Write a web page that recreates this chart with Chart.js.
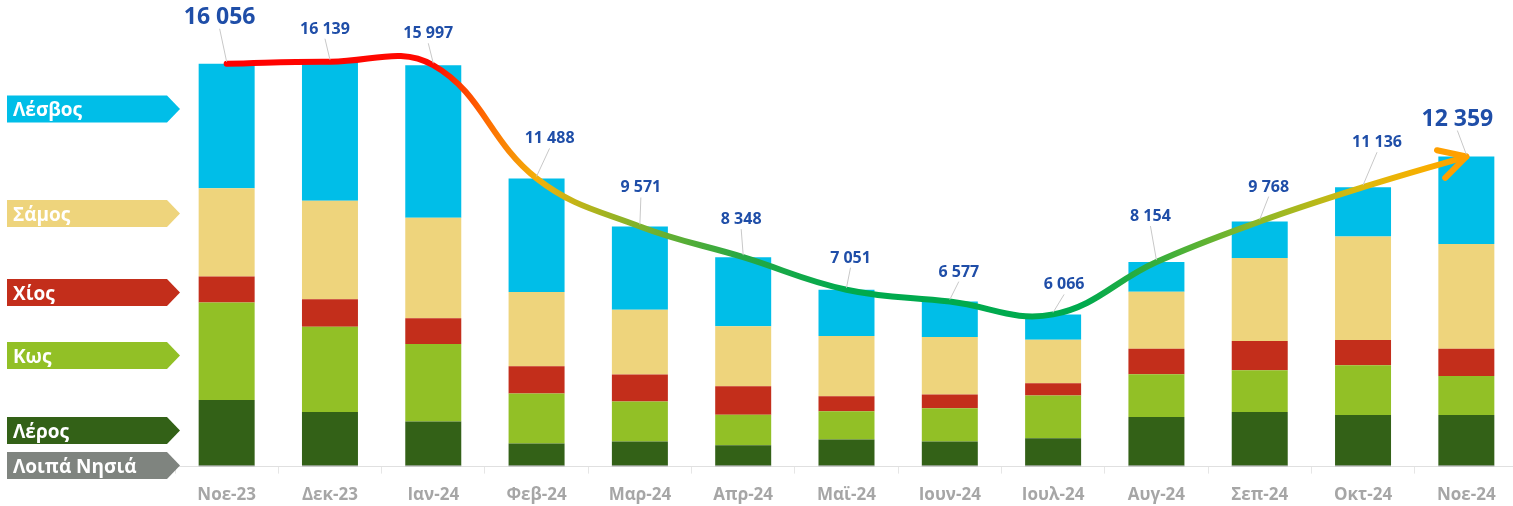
<!DOCTYPE html>
<html>
<head>
  <meta charset="utf-8">
  <title>Αφίξεις ανά νησί</title>
  <script src="https://cdn.jsdelivr.net/npm/chart.js"></script>
  <style>
    html, body { margin: 0; padding: 0; background: #fff; overflow: hidden; }
    .wrap { width: 1518px; height: 506px; position: relative; }
  </style>
</head>
<body>
<div class="wrap"><canvas id="chart"></canvas></div>

<script>
  // data
  const months = ['Νοε-23','Δεκ-23','Ιαν-24','Φεβ-24','Μαρ-24','Απρ-24','Μαϊ-24','Ιουν-24','Ιουλ-24','Αυγ-24','Σεπ-24','Οκτ-24','Νοε-24'];
  const loipa  = [40, 40, 40, 40, 40, 40, 40, 40, 40, 40, 40, 40, 40];
  const leros  = [2615, 2134, 1762, 881, 961, 813, 1041, 961, 1093, 1934, 2134, 2014, 2014];
  const kos    = [3884, 3403, 3083, 1990, 1590, 1217, 1121, 1321, 1698, 1710, 1670, 1990, 1562];
  const chios  = [1041, 1097, 1029, 1093, 1081, 1133, 601, 549, 493, 1013, 1161, 1001, 1081];
  const samos  = [3511, 3924, 4004, 2951, 2575, 2390, 2402, 2294, 1734, 2270, 3311, 4124, 4180];
  const lesvos = [4965, 5541, 6079, 4533, 3324, 2755, 1846, 1412, 1008, 1187, 1452, 1967, 3482];
  const totals = [16056, 16139, 15997, 11488, 9571, 8348, 7051, 6577, 6066, 8154, 9768, 11136, 12359];

  // where each total label sits relative to its point (dx, baseline dy)
  const labelOffsets = [[-7,-40],[-5,-28],[-5,-27],[13,-35],[1,-34],[-2,-33],[4,-27],[9,-25],[11,-25],[-6,-41],[9,-30],[14,-40],[-9,-31]];
  // vertical centres of the tag labels on the left, in dataset order
  const tagCentres = [465.5, 430.5, 355.5, 292.5, 213.5, 109];

  const FONT = "'Open Sans', 'Noto Sans', sans-serif";
  const LINE = 6; // index of the total line dataset

  function lineGradient(context) {
    const chart = context.chart;
    const area = chart.chartArea, x = chart.scales.x;
    if (!area || !x) return '#00AA4E';
    const g = chart.ctx.createLinearGradient(area.left, 0, area.right, 0);
    const w = area.right - area.left;
    const stops = [[0,'#FF0000'],[2,'#FF0A00'],[2.5,'#FF6A00'],[3,'#F2B00A'],[3.4,'#C0B418'],[4,'#7CB22C'],
                   [5,'#26A844'],[6,'#00AA4E'],[8.3,'#00AA4E'],[9,'#36AE3C'],[10,'#8EB828'],[11,'#DCB90C'],[11.6,'#F8AE00'],[12,'#FFA000']];
    stops.forEach(([i, c]) => g.addColorStop(Math.min(1, Math.max(0, (x.getPixelForValue(i) - area.left) / w)), c));
    return g;
  }

  // arrow head at the end of the total line
  const arrowHead = {
    id: 'arrowHead',
    afterDatasetsDraw(chart) {
      const pts = chart.getDatasetMeta(LINE).data;
      const p = pts[pts.length - 1], q = pts[pts.length - 2];
      let dx = p.x - p.cp1x, dy = p.y - p.cp1y;
      if (!isFinite(dx) || (Math.abs(dx) < 0.5 && Math.abs(dy) < 0.5)) { dx = p.x - q.x; dy = p.y - q.y; }
      const a = Math.atan2(dy, dx);
      const c = chart.ctx;
      c.save();
      c.strokeStyle = '#FFA000';
      c.lineWidth = 6;
      c.lineCap = 'round';
      c.lineJoin = 'round';
      c.beginPath();
      c.moveTo(p.x - 30 * Math.cos(a - 0.5), p.y - 30 * Math.sin(a - 0.5));
      c.lineTo(p.x, p.y);
      c.lineTo(p.x - 30 * Math.cos(a + 0.5), p.y - 30 * Math.sin(a + 0.5));
      c.stroke();
      c.restore();
    }
  };

  // total labels with thin leader lines
  const totalLabels = {
    id: 'totalLabels',
    afterDatasetsDraw(chart) {
      const pts = chart.getDatasetMeta(LINE).data;
      const c = chart.ctx;
      c.save();
      pts.forEach((p, i) => {
        const big = i === 0 || i === pts.length - 1;
        const lx = p.x + labelOffsets[i][0];
        const ly = p.y + labelOffsets[i][1];
        c.strokeStyle = '#C8C8C8';
        c.lineWidth = 1;
        c.beginPath();
        c.moveTo(lx, ly + 5);
        c.lineTo(p.x, p.y - 2);
        c.stroke();
        c.fillStyle = '#1F4EA8';
        c.font = `bold ${big ? 23 : 16}px ${FONT}`;
        c.textAlign = 'center';
        c.textBaseline = 'alphabetic';
        c.fillText(totals[i].toLocaleString('en-US').replace(/,/g, ' '), lx, ly);
      });
      c.restore();
    }
  };

  // arrow-shaped tags on the left
  const sideTags = {
    id: 'sideTags',
    afterDraw(chart) {
      const c = chart.ctx;
      c.save();
      chart.data.datasets.forEach((ds, i) => {
        if (i >= tagCentres.length) return;
        const y = tagCentres[i], h = 27;
        c.fillStyle = ds.backgroundColor;
        c.beginPath();
        c.moveTo(7, y - h / 2);
        c.lineTo(167, y - h / 2);
        c.lineTo(180, y);
        c.lineTo(167, y + h / 2);
        c.lineTo(7, y + h / 2);
        c.closePath();
        c.fill();
        c.fillStyle = '#fff';
        c.font = `bold 19px ${FONT}`;
        c.textAlign = 'left';
        c.textBaseline = 'alphabetic';
        c.fillText(ds.label, 13, y + 7);
      });
      c.restore();
    }
  };

  const bar = (label, data, color) => ({
    label, data, backgroundColor: color, borderWidth: 0,
    categoryPercentage: 1, barPercentage: 0.542, order: 1
  });

  new Chart(document.getElementById('chart').getContext('2d'), {
    type: 'bar',
    data: {
      labels: months,
      datasets: [
        bar('Λοιπά Νησιά', loipa, '#7F847F'),
        bar('Λέρος', leros, '#336117'),
        bar('Κως', kos, '#92C026'),
        bar('Χίος', chios, '#C32E1B'),
        bar('Σάμος', samos, '#EED47C'),
        bar('Λέσβος', lesvos, '#00BEE8'),
        {
          type: 'line',
          label: 'Σύνολο',
          data: totals,
          stack: 'total',
          borderColor: lineGradient,
          borderWidth: 6,
          borderCapStyle: 'round',
          tension: 0.4,
          pointRadius: 0,
          fill: false,
          clip: false,
          order: 0
        }
      ]
    },
    options: {
      responsive: true,
      maintainAspectRatio: false,
      animation: false,
      layout: { padding: { left: 175, right: 0, top: 15, bottom: -10 } },
      plugins: { legend: { display: false }, tooltip: { enabled: false } },
      scales: {
        x: {
          stacked: true,
          grid: { display: true, drawOnChartArea: false, drawTicks: true, tickLength: 7, color: '#E6E6E6', offset: true },
          border: { display: true, color: '#E0E0E0' },
          ticks: { color: '#A6A6A6', font: { family: FONT, weight: 'bold', size: 17 }, padding: 11, maxRotation: 0, autoSkip: false }
        },
        y: { stacked: true, display: false, min: 0, max: 18000 }
      }
    },
    plugins: [arrowHead, totalLabels, sideTags]
  });
</script>
</body>
</html>
